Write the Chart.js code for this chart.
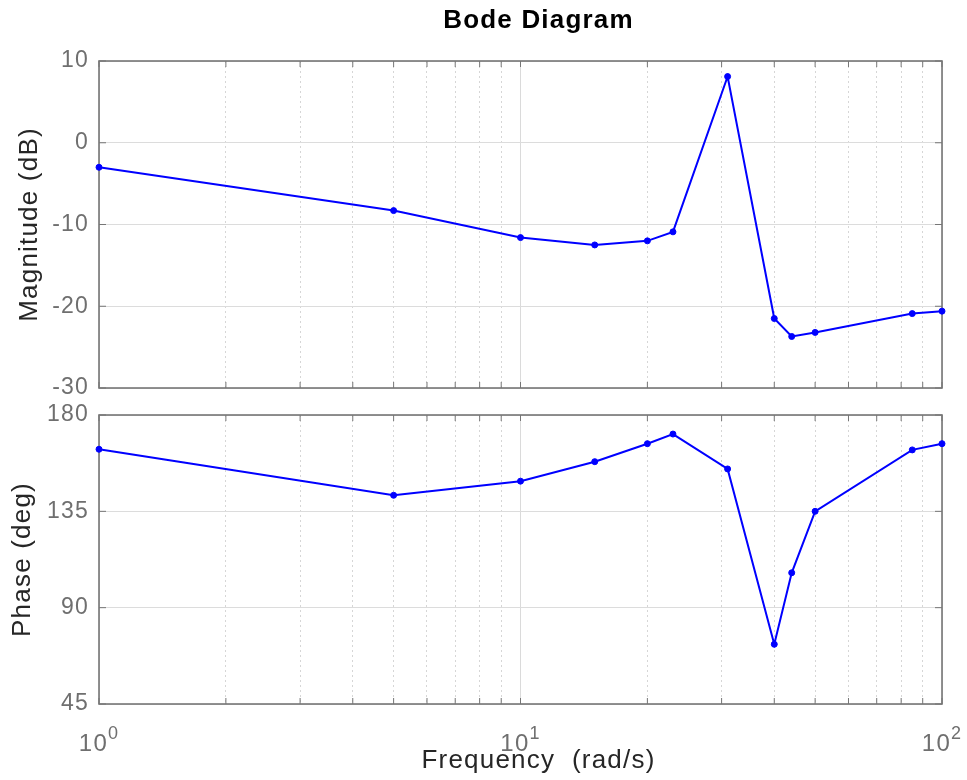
<!DOCTYPE html>
<html>
<head>
<meta charset="utf-8">
<title>Bode Diagram</title>
<script src="https://cdn.jsdelivr.net/npm/chart.js@4.4.1/dist/chart.umd.min.js"></script>
<style>
  html, body { margin: 0; padding: 0; background: #fff; }
  #wrap { position: relative; width: 967px; height: 780px; }
  #magCanvas { position: absolute; left: 0; top: 0; }
  #phaseCanvas { position: absolute; left: 0; top: 400px; }
</style>
</head>
<body>
<div id="wrap">
  <canvas id="magCanvas" width="967" height="400"></canvas>
  <canvas id="phaseCanvas" width="967" height="380"></canvas>
</div>
<script>
// Frequency response samples (rad/s, dB, deg)
const freq = [1, 5, 10, 15, 20, 23, 31, 40, 44, 50, 85, 100];
const magDb = [-3.0, -8.3, -11.6, -12.5, -12.0, -10.9, 8.1, -21.5, -23.7, -23.2, -20.9, -20.6];
const phaseDeg = [164.0, 142.5, 149.1, 158.2, 166.6, 171.1, 154.8, 72.9, 106.3, 135.0, 163.7, 166.6];

// Axis ticks
const decadeTicks = [1, 10, 100];
const decadeExps = ['0', '1', '2'];
const minorTicks = [2, 3, 4, 5, 6, 7, 8, 9, 20, 30, 40, 50, 60, 70, 80, 90];
const magTicks = [-30, -20, -10, 0, 10];
const phaseTicks = [45, 90, 135, 180];

const FONT = '"Liberation Sans", Arial, sans-serif';
const TICK_COLOR = '#6f6f6f';
const LABEL_COLOR = '#262626';
const FRAME_COLOR = '#767676';
const LINE_COLOR = '#0000ff';
const LETTER_SPACING = '1.2px';

Chart.defaults.font.family = FONT;

function makeDataset(values) {
    return {
        data: freq.map((f, i) => ({ x: f, y: values[i] })),
        borderColor: LINE_COLOR,
        backgroundColor: LINE_COLOR,
        borderWidth: 2,
        pointRadius: 3,
        pointBorderWidth: 1,
        tension: 0,
        clip: false
    };
}

function bodeOptions(yTicks, yTitle, titlePad, topPad, bottomHeight) {
    return {
        responsive: false,
        animation: false,
        events: [],
        layout: { padding: { left: 0, right: 25, top: topPad, bottom: 0 } },
        plugins: { legend: { display: false }, tooltip: { enabled: false } },
        scales: {
            x: {
                type: 'logarithmic', min: 1, max: 100,
                afterBuildTicks: s => { s.ticks = decadeTicks.map(v => ({ value: v })); },
                afterFit: s => { s.height = bottomHeight; },
                ticks: { display: false },
                grid: { color: '#dadada', lineWidth: 1, drawTicks: false },
                border: { display: false }
            },
            xMinor: {
                type: 'logarithmic', axis: 'x', position: 'bottom', min: 1, max: 100,
                afterBuildTicks: s => { s.ticks = minorTicks.map(v => ({ value: v })); },
                afterFit: s => { s.height = 0; },
                ticks: { display: false },
                grid: { color: '#d6d6d6', lineWidth: 1, drawTicks: false },
                border: { display: false, dash: [2, 3] }
            },
            y: {
                min: yTicks[0], max: yTicks[yTicks.length - 1],
                afterBuildTicks: s => { s.ticks = yTicks.map(v => ({ value: v })); },
                afterFit: s => { s.width = 99; s.paddingTop = 0; s.paddingBottom = 0; },
                ticks: { color: TICK_COLOR, font: { size: 23 }, padding: 10 },
                grid: { color: '#dcdcdc', drawTicks: false },
                border: { display: false },
                title: {
                    display: true, text: yTitle, color: LABEL_COLOR,
                    font: { size: 26 }, padding: { top: titlePad, bottom: 0 }
                }
            }
        }
    };
}

// slightly looser text spacing for every label on the canvas
const spacingPlugin = {
    id: 'spacing',
    beforeDraw(chart) {
        chart.ctx.letterSpacing = LETTER_SPACING;
    }
};

// box around the plot area with small inward ticks on every side
const framePlugin = {
    id: 'frame',
    beforeDatasetsDraw(chart) {
        const { ctx, chartArea: a, scales } = chart;
        ctx.save();
        ctx.strokeStyle = FRAME_COLOR;
        ctx.lineWidth = 1;
        ctx.beginPath();
        [scales.x, scales.xMinor].forEach(s => s.ticks.forEach(t => {
            const px = s.getPixelForValue(t.value);
            ctx.moveTo(px, a.bottom); ctx.lineTo(px, a.bottom - 6);
            ctx.moveTo(px, a.top); ctx.lineTo(px, a.top + 6);
        }));
        scales.y.ticks.forEach(t => {
            const py = scales.y.getPixelForValue(t.value);
            ctx.moveTo(a.left, py); ctx.lineTo(a.left + 7, py);
            ctx.moveTo(a.right, py); ctx.lineTo(a.right - 7, py);
        });
        ctx.stroke();
        ctx.lineWidth = 1.6;
        ctx.strokeRect(a.left, a.top, a.right - a.left, a.bottom - a.top);
        ctx.restore();
    }
};

const titlePlugin = {
    id: 'bodeTitle',
    afterDraw(chart) {
        const { ctx, chartArea: a } = chart;
        ctx.save();
        ctx.font = 'bold 26px ' + FONT;
        ctx.fillStyle = '#000';
        ctx.textAlign = 'center';
        ctx.textBaseline = 'alphabetic';
        ctx.fillText('Bode Diagram', (a.left + a.right) / 2 + 18, 28);
        ctx.restore();
    }
};

// decade labels as 10^n and the frequency axis title
const freqAxisPlugin = {
    id: 'freqAxis',
    afterDraw(chart) {
        const { ctx, chartArea: a, scales } = chart;
        ctx.save();
        ctx.fillStyle = TICK_COLOR;
        ctx.textBaseline = 'alphabetic';
        ctx.textAlign = 'left';
        decadeTicks.forEach((v, i) => {
            const px = scales.x.getPixelForValue(v);
            ctx.font = '24px ' + FONT;
            const wBase = ctx.measureText('10').width;
            ctx.font = '18px ' + FONT;
            const wExp = ctx.measureText(decadeExps[i]).width;
            const x0 = px - (wBase + wExp) / 2;
            ctx.font = '24px ' + FONT;
            ctx.fillText('10', x0, a.bottom + 47);
            ctx.font = '18px ' + FONT;
            ctx.fillText(decadeExps[i], x0 + wBase, a.bottom + 35);
        });
        ctx.fillStyle = LABEL_COLOR;
        ctx.font = '26px ' + FONT;
        ctx.textAlign = 'center';
        ctx.fillText('Frequency  (rad/s)', (a.left + a.right) / 2 + 18, a.bottom + 64);
        ctx.restore();
    }
};

new Chart(document.getElementById('magCanvas'), {
    type: 'line',
    data: { datasets: [makeDataset(magDb)] },
    options: bodeOptions(magTicks, 'Magnitude (dB)', 14, 61, 12),
    plugins: [spacingPlugin, framePlugin, titlePlugin]
});

new Chart(document.getElementById('phaseCanvas'), {
    type: 'line',
    data: { datasets: [makeDataset(phaseDeg)] },
    options: bodeOptions(phaseTicks, 'Phase (deg)', 7, 15, 76),
    plugins: [spacingPlugin, framePlugin, freqAxisPlugin]
});
</script>
</body>
</html>
